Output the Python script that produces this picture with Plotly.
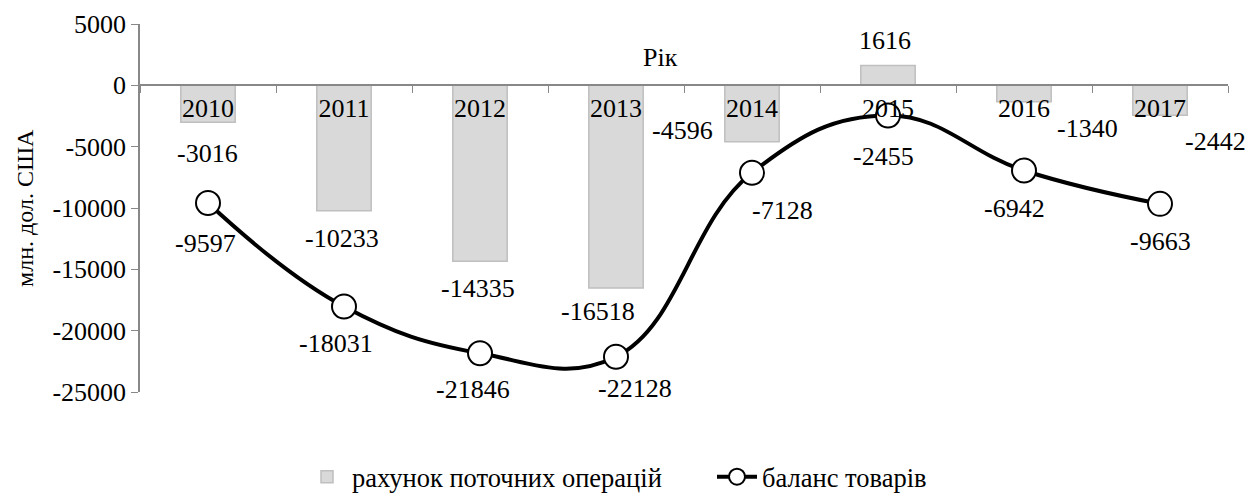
import plotly.graph_objects as go

years = ["2010", "2011", "2012", "2013", "2014", "2015", "2016", "2017"]
current_account = [-3016, -10233, -14335, -16518, -4596, 1616, -1340, -2442]
goods_balance = [-9597, -18031, -21846, -22128, -7128, -2455, -6942, -9663]
y_ticks = [5000, 0, -5000, -10000, -15000, -20000, -25000]
y_tick_text = ["5000", "0", "-5000", "-10000", "-15000", "-20000", "-25000"]

# label offsets in pixels (xshift, yshift)
bar_label_offsets = [(-1, -31), (-2, -28), (-2, -27), (-18, -24), (-70, 11), (-3, 25), (63, -27), (55, -26)]
line_label_offsets = [(-3, -40), (-8, -37), (-7, -36), (19, -32), (30, -38), (-5, -41), (-10, -38), (0, -38)]

FONT = "Liberation Serif"
FS = 26

fig = go.Figure()
fig.add_trace(go.Bar(
    x=years, y=current_account, name="рахунок поточних операцій",
    width=0.4, marker=dict(color="#d9d9d9", line=dict(color="#bfbfbf", width=1.5)),
    legend="legend",
))
fig.add_trace(go.Scatter(
    x=years, y=goods_balance, name="баланс товарів", mode="lines+markers",
    line=dict(color="black", width=4, shape="spline", smoothing=1.2),
    marker=dict(size=24, color="white", line=dict(color="black", width=2)),
    legend="legend2",
))

ann = []
for i, (v, (dx, dy)) in enumerate(zip(current_account, bar_label_offsets)):
    ann.append(dict(x=i, y=v, xref="x", yref="y", text=str(v), showarrow=False, xshift=dx, yshift=dy,
                    font=dict(family=FONT, size=FS, color="black")))
for i, (v, (dx, dy)) in enumerate(zip(goods_balance, line_label_offsets)):
    ann.append(dict(x=i, y=v, xref="x", yref="y", text=str(v), showarrow=False, xshift=dx, yshift=dy,
                    font=dict(family=FONT, size=FS, color="black")))
ann.append(dict(x=0.478, y=0, xref="paper", yref="y", yshift=28, text="Рік", showarrow=False,
                font=dict(family=FONT, size=FS, color="black")))
ann.append(dict(x=(25 - 140) / 1088, y=0.5, xref="paper", yref="paper", text="млн. дол. США",
                xanchor="center", yanchor="middle",
                textangle=-90, showarrow=False, font=dict(family=FONT, size=24, color="black")))

LEG_Y = 1 - 453 / 494
LEG_FS = 26.5
fig.update_layout(
    width=1248, height=494,
    margin=dict(l=140, r=20, t=24, b=102, autoexpand=False),
    plot_bgcolor="white", paper_bgcolor="white",
    font=dict(family=FONT, size=FS, color="black"),
    showlegend=True,
    legend=dict(orientation="h", x=(302 - 140) / 1088, xanchor="left", yref="container", y=LEG_Y,
                yanchor="top", font=dict(family=FONT, size=LEG_FS), itemwidth=40, bgcolor="rgba(0,0,0,0)"),
    legend2=dict(orientation="h", x=(712 - 140) / 1088, xanchor="left", yref="container", y=LEG_Y,
                 yanchor="top", font=dict(family=FONT, size=LEG_FS), itemwidth=40, bgcolor="rgba(0,0,0,0)"),
    annotations=ann,
)
fig.update_xaxes(
    type="category", range=[-0.5, 7.5], anchor="free", position=(0 - (-25000)) / 30000,
    showline=True, linecolor="#888888", linewidth=1.5,
    ticks="outside", tickson="boundaries", ticklen=7, tickcolor="#888888",
    showgrid=False, zeroline=False, tickfont=dict(family=FONT, size=FS),
)
fig.update_yaxes(
    range=[-25000, 5000], tickvals=y_ticks, ticktext=y_tick_text,
    showline=True, linecolor="#888888", linewidth=1.5,
    ticks="outside", ticklen=7, tickcolor="#888888", showgrid=False, zeroline=False,
    tickfont=dict(family=FONT, size=FS),
)

fig.write_html("out.html", config={"displayModeBar": False},
               post_script="document.body.style.margin='0';")
